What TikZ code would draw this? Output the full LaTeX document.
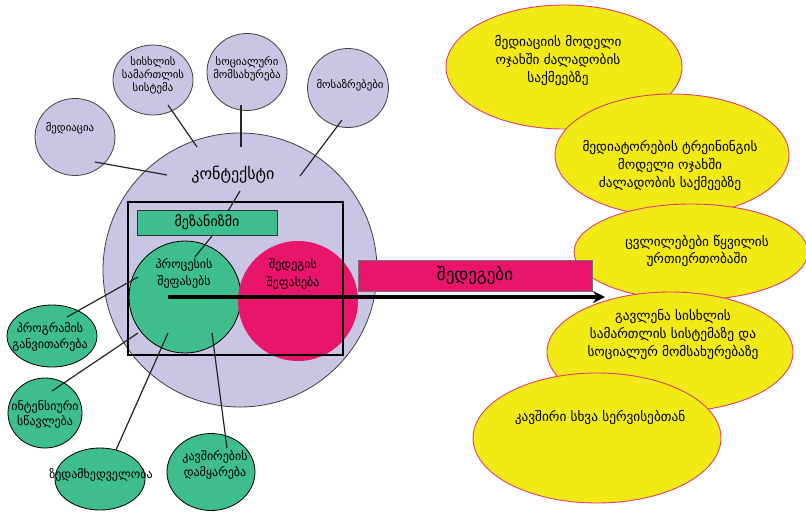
\documentclass[tikz,border=0pt]{standalone}
\usepackage{fontspec}
\setmainfont{DejaVu Sans}
\usetikzlibrary{shapes.geometric,arrows.meta,calc}
\definecolor{lav}{RGB}{200,198,228}
\definecolor{grn}{RGB}{61,190,140}
\definecolor{pnk}{RGB}{232,21,107}
\definecolor{yel}{RGB}{242,234,20}
\definecolor{yelb}{RGB}{228,60,110}
\begin{document}
\begin{tikzpicture}[x=1pt,y=-1pt,
  lavc/.style={ellipse,draw=black!75,line width=0.8pt,fill=lav,inner sep=0pt},
  grnc/.style={ellipse,draw=black,line width=0.8pt,fill=grn,inner sep=0pt},
  yelc/.style={ellipse,draw=yelb,line width=0.9pt,fill=yel,inner sep=0pt},
  lbl/.style={font=\fontsize{10.8}{13}\selectfont,align=center,inner sep=0pt},
  glbl/.style={font=\fontsize{12}{15.5}\selectfont,align=center,inner sep=0pt},
  ylbl/.style={font=\fontsize{13.3}{18}\selectfont,align=center,inner sep=0pt},
  conn/.style={line width=1.2pt,draw=black!85}]
\useasboundingbox (0,0) rectangle (806,512);
\fill[white] (0,0) rectangle (806,512);
% yellow ellipses
\node[yelc,minimum width=236,minimum height=124] (y1) at (564,67) {};
\node[yelc,minimum width=234,minimum height=122] (y2) at (672,155) {};
\node[yelc,minimum width=234,minimum height=96] (y3) at (691,252) {};
\node[yelc,minimum width=246,minimum height=120] (y4) at (670,352) {};
\node[yelc,minimum width=248,minimum height=130] (y5) at (597,438) {};
\node[ylbl] (t1) at (558,60) {მედიაციის მოდელი\\ოჯახში ძალადობის\\საქმეებზე};
\node[ylbl] (t2) at (670,165) {მედიატორების ტრეინინგის\\მოდელი ოჯახში\\ძალადობის საქმეებზე};
\node[ylbl,font=\fontsize{13.3}{17}\selectfont] (t3) at (697,250.5) {ცვლილებები წყვილის\\ურთიერთობაში};
\node[ylbl] (t4) at (673,335) {გავლენა სისხლის\\სამართლის სისტემაზე და\\სოციალურ მომსახურებაზე};
\node[ylbl] (t5) at (600,417) {კავშირი სხვა სერვისებთან};
% top circles
\node[lavc,minimum width=80,minimum height=77] (medi) at (75,137) {};
\node[lavc,minimum width=80,minimum height=70] (sys) at (153,80) {};
\node[lavc,minimum width=80,minimum height=77] (soc) at (247,72) {};
\node[lavc,minimum width=81,minimum height=79] (opin) at (348,88) {};
\node[lbl] (tm) at (70,128) {მედიაცია};
\node[lbl] (ts) at (153,75) {სისხლის\\სამართლის\\სისტემა};
\node[lbl] (tc) at (247,68.5) {სოციალური\\მომსახურება};
\node[lbl] (to) at (350,85) {მოსაზრებები};
% green ellipses
\node[grnc,minimum width=90,minimum height=62] (prog) at (52,336) {};
\node[grnc,minimum width=74,minimum height=70] (int) at (45,413) {};
\node[grnc,minimum width=90,minimum height=62] (sup) at (100,479) {};
\node[grnc,minimum width=88,minimum height=77] (link) at (211,472) {};
\node[glbl] (tp) at (50,337) {პროგრამის\\განვითარება};
\node[glbl] (ti) at (45,414.5) {ინტენსიური\\სწავლება};
\node[glbl] (tsu) at (101,475) {ზედამხედველობა};
\node[glbl] (tl) at (215,465) {კავშირების\\დამყარება};
% context
\node[lavc,minimum size=274] (ctx) at (240,270) {};
\node[font=\fontsize{16}{18}\selectfont,inner sep=0pt] (tk) at (233,175) {კონტექსტი};
\node[draw=black!80,line width=0.8pt,fill=grn,minimum width=140,minimum height=25,inner sep=0pt,font=\fontsize{14}{16}\selectfont] (mech) at (207,222.5) {მეზანიზმი};
\node[grnc,minimum size=112] (proc) at (185,297) {};
\node[ellipse,fill=pnk,minimum size=120,inner sep=0pt] (outc) at (298,301) {};
\node[glbl,font=\fontsize{12}{17}\selectfont] (tpr) at (184,273.5) {პროცესის\\შეფასებს};
\node[glbl,font=\fontsize{12}{18}\selectfont] (tou) at (293,274) {შედეგის\\შეფასება};
\node[draw=black,line width=2pt,minimum width=215,minimum height=153,inner sep=0pt] (box) at (235.5,278.5) {};
% results bar
\node[draw=black!55,line width=0.8pt,fill=pnk,minimum width=234,minimum height=31,inner sep=0pt,font=\fontsize{17}{19}\selectfont] (res) at (475,275.5) {შედეგები};
% arrow
\coordinate (aend) at (605,297);
\draw[line width=3.5pt,-{Stealth[length=12pt,width=12pt]}] ($(proc)+(-17,0)$) -- (aend);
% connectors
\draw[conn] ($(medi)+(20,25)$) -- ($(ctx)+(-73,-95)$);
\draw[conn] ($(sys)+(15,25)$) -- ($(ctx)+(-43,-123)$);
\draw[conn] ($(soc)+(-6,33)$) -- ($(ctx)+(1,-123)$);
\draw[conn] ($(opin)+(-6,32)$) -- ($(ctx)+(60,-94)$);
\draw[conn] ($(ctx)+(0,-79)$) -- ($(mech)+(21,-11.5)$);
\draw[conn] ($(mech)+(5,13.5)$) -- ($(proc)+(10,-40)$);
\draw[conn] ($(prog)+(15,-19)$) -- ($(proc)+(-47,-20)$);
\draw[conn] ($(int)+(7,-22)$) -- ($(proc)+(-47,36)$);
\draw[conn] ($(sup)+(16,-29)$) -- ($(proc)+(-17,36)$);
\draw[conn] ($(link)+(16,-24)$) -- ($(proc)+(27,36)$);
\end{tikzpicture}
\end{document}
